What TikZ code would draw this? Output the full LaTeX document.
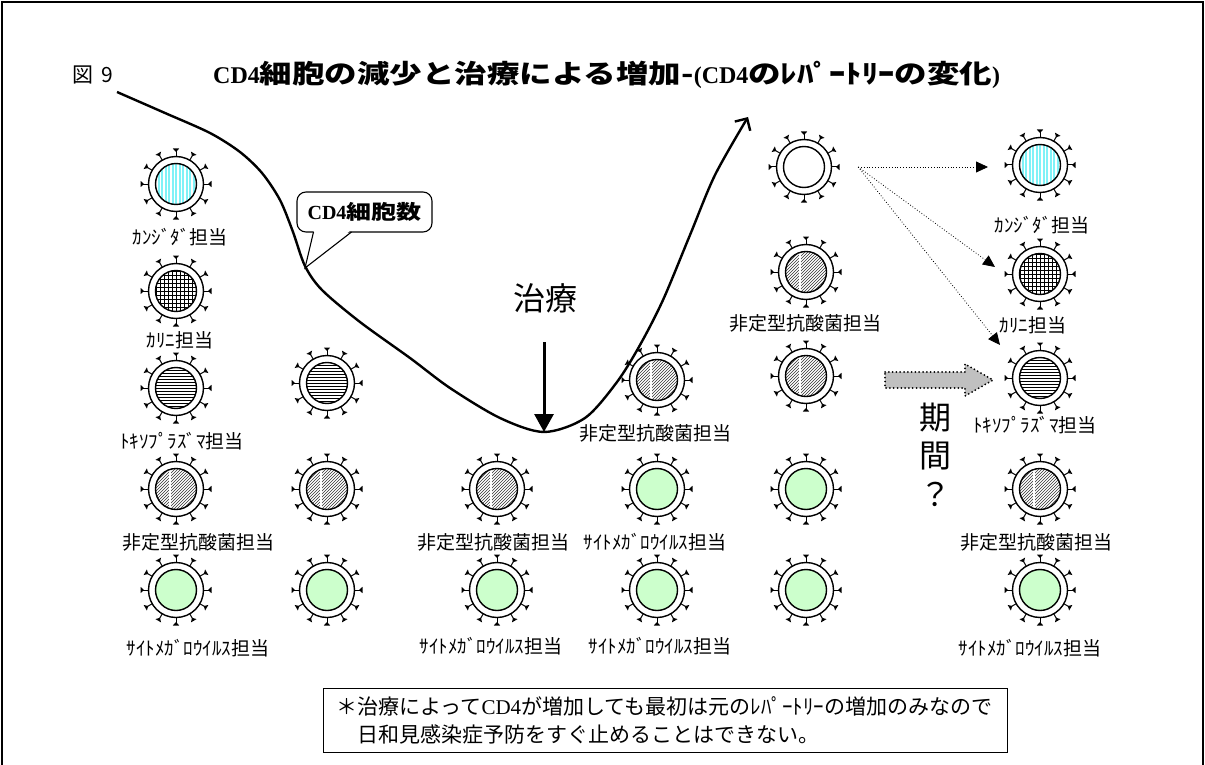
\documentclass[tikz,border=0pt]{standalone}
\usepackage{fontspec}
\setmainfont{Liberation Serif}
\newfontfamily\jp{Noto Sans CJK JP}
\newfontfamily\jpw[FakeStretch=1.25]{Noto Sans CJK JP}
\usetikzlibrary{arrows.meta}

\definecolor{candidacyan}{HTML}{80F2F7}
\definecolor{cmvgreen}{HTML}{CCFFCC}
\definecolor{arrowgray}{HTML}{C0C0C0}

% interiors of the cell icons
\newcommand\cfcandida{\fill[candidacyan] (-22,-22) rectangle (22,22);
  \foreach \i in {-19,-15.5,...,21} \draw[white,line width=1.2pt] (\i,-22) -- (\i,22);}
\newcommand\cfcarini{\fill[white] (-22,-22) rectangle (22,22);
  \foreach \i in {-20,-16,...,20} {\draw[line width=0.7pt] (\i,-22) -- (\i,22);
    \draw[line width=0.7pt] (-22,\i) -- (22,\i);}}
\newcommand\cftoxo{\fill[white] (-22,-22) rectangle (22,22);
  \foreach \i in {-21,-18,...,21} \draw[line width=0.7pt] (-22,\i) -- (22,\i);}
\newcommand\cfmyco{\fill[white] (-22,-22) rectangle (22,22);
  \foreach \i in {-45,-42,...,45} \draw[black!80,line width=0.6pt] (\i-22,22) -- (\i+22,-22);
  \draw[white,line width=1.4pt] (-6,-22) -- (-6,22);}
\newcommand\cfcmv{\fill[cmvgreen] (-22,-22) rectangle (22,22);}
\newcommand\cfempty{\fill[white] (-22,-22) rectangle (22,22);}

\tikzset{
  pics/cell/.style={code={
    \node[circle,inner sep=0pt,minimum size=68pt] (-body) at (0,0) {};
    \begin{scope}
      \clip (0,0) circle (20.5);
      \csname cf#1\endcsname
    \end{scope}
    \draw[line width=1.4pt] (0,0) circle (20.5);
    \draw[line width=1.4pt] (0,0) circle (27.5);
    \foreach \a in {0,30,...,330}{
      \draw[line width=1pt] (\a:27.5) -- (\a:34);
      \fill (\a:32) -- ([shift={(\a+90:3.2)}]\a:35.5) -- ([shift={(\a-90:3.2)}]\a:35.5) -- cycle;
    }
  }},
  lab/.style={font=\jp\fontsize{19}{19}\selectfont, inner sep=0pt},
  big/.style={font=\jp\fontsize{32}{32}\selectfont, inner sep=0pt},
  fanarrow/.style={line width=0.8pt, dotted, -{Triangle[length=12pt,width=11pt]}},
  bigarrow/.style={fill=arrowgray, draw, line width=2pt, dash pattern=on 0pt off 3.8pt, line cap=round},
  curve/.style={line width=2.4pt, -{Straight Barb[length=9pt,width=18pt]}},
}

\begin{document}
\begin{tikzpicture}[x=1pt,y=-1pt]
\useasboundingbox (0,0) rectangle (1205,765);
\fill[white] (0,0) rectangle (1205,765);
\draw[line width=1.2pt] (2,2) rectangle (1203,800);

% headings
\node[font=\jp\fontsize{21}{21}\selectfont, anchor=west, inner sep=0pt] (fig) at (72,75) {図\hspace{0.4em}9};
\node[anchor=west, inner sep=0pt, font=\fontsize{24}{24}\selectfont\bfseries] (title) at (213,75)
  {CD4{\jpw\fontsize{26}{26}\selectfont 細胞の減少と治療による増加-}(CD4{\jpw\fontsize{26}{26}\selectfont のﾚﾊﾟｰﾄﾘｰの変化})};

% CD4 count curve
\draw[curve] plot[smooth, tension=0.5] coordinates {
  (117,92) (165,113) (210,133) (240,152) (262,173) (280,200) (293,232) (305,266)
  (322,290) (360,322) (410,358) (450,388) (500,418) (544,432) (585,418) (617,382)
  (640,345) (663,300) (690,235) (715,175) (748,117)};

% callout
\node[draw, line width=1.1pt, rounded corners=9pt, minimum width=135pt, minimum height=40pt,
  inner sep=0pt, font=\fontsize{20}{20}\selectfont\bfseries] (callout) at (364.5,212)
  {CD4{\jpw 細胞数}};
\coordinate (calltip) at (305,268);
\fill[white] (314,230) -- (351,230) -- (calltip) -- cycle;
\draw[line width=1.1pt] (313.5,232) -- (calltip) -- (351.5,232);

% treatment
\node[big] (treat) at (545,298) {治療};
\coordinate (trough) at (544,432);
\draw[line width=3pt, -{Triangle[length=18pt,width=19pt]}] (544,342) -- (trough);

% cells, column 1
\pic (a1) at (176,184) {cell=candida};
\pic (a2) at (176,291) {cell=carini};
\pic (a3) at (176,388) {cell=toxo};
\pic (a4) at (176,489) {cell=myco};
\pic (a5) at (176,590) {cell=cmv};
\node[lab] (la1) at (180,237) {ｶﾝｼﾞﾀﾞ担当};
\node[lab] (la2) at (180,340) {ｶﾘﾆ担当};
\node[lab] (la3) at (182,441) {ﾄｷｿﾌﾟﾗｽﾞﾏ担当};
\node[lab] (la4) at (198,542) {非定型抗酸菌担当};
\node[lab] (la5) at (198,648) {ｻｲﾄﾒｶﾞﾛｳｲﾙｽ担当};

% column 2
\pic (b3) at (327,383) {cell=toxo};
\pic (b4) at (327,489) {cell=myco};
\pic (b5) at (327,590) {cell=cmv};

% column 3
\pic (c4) at (497,489) {cell=myco};
\pic (c5) at (497,590) {cell=cmv};
\node[lab] (lc4) at (493,542) {非定型抗酸菌担当};
\node[lab] (lc5) at (491,646) {ｻｲﾄﾒｶﾞﾛｳｲﾙｽ担当};

% column 4
\pic (d3) at (657,380) {cell=myco};
\pic (d4) at (657,489) {cell=cmv};
\pic (d5) at (657,590) {cell=cmv};
\node[lab] (ld3) at (655,433) {非定型抗酸菌担当};
\node[lab] (ld4) at (655,542) {ｻｲﾄﾒｶﾞﾛｳｲﾙｽ担当};
\node[lab] (ld5) at (660,646) {ｻｲﾄﾒｶﾞﾛｳｲﾙｽ担当};

% column 5
\pic (e1) at (804,167) {cell=empty};
\pic (e2) at (806,272) {cell=myco};
\pic (e3) at (806,376) {cell=myco};
\pic (e4) at (806,489) {cell=cmv};
\pic (e5) at (806,590) {cell=cmv};
\node[lab] (le2) at (805,323) {非定型抗酸菌担当};

% column 6
\pic (f1) at (1040,165) {cell=candida};
\pic (f2) at (1040,274) {cell=carini};
\pic (f3) at (1040,378) {cell=toxo};
\pic (f4) at (1040,489) {cell=myco};
\pic (f5) at (1040,590) {cell=cmv};
\node[lab] (lf1) at (1042,225) {ｶﾝｼﾞﾀﾞ担当};
\node[lab] (lf2) at (1033,325) {ｶﾘﾆ担当};
\node[lab] (lf3) at (1035,425) {ﾄｷｿﾌﾟﾗｽﾞﾏ担当};
\node[lab] (lf4) at (1036,542) {非定型抗酸菌担当};
\node[lab] (lf5) at (1030,648) {ｻｲﾄﾒｶﾞﾛｳｲﾙｽ担当};

% differentiation of the naive cell
\coordinate (fan) at ([xshift=20pt]e1-body.east);
\coordinate (t1) at (988,167);
\coordinate (t2) at (995,267);
\coordinate (t3) at (1000,345);
\draw[fanarrow] (fan) -- (t1);
\draw[fanarrow] (fan) -- (t2);
\draw[fanarrow] (fan) -- (t3);

% time arrow
\draw[bigarrow] (885,372) -- (965,372) -- (965,364) -- (993,380) -- (965,396) -- (965,388) -- (885,388) -- cycle;
\node[big] (q1) at (935,418) {期};
\node[big] (q2) at (935,456) {間};
\node[big] (q3) at (935,494) {？};

% note
\node[draw, line width=1pt, minimum width=684pt, minimum height=64pt, inner sep=0pt] (note) at (665,720) {};
\node[anchor=north west, inner sep=0pt, align=left, font=\jp\fontsize{21}{28}\selectfont] (notetext) at (336,696)
  {＊治療によって{\rmfamily CD4}が増加しても最初は元のﾚﾊﾟｰﾄﾘｰの増加のみなので\\
   \phantom{＊}日和見感染症予防をすぐ止めることはできない。};
\end{tikzpicture}
\end{document}
